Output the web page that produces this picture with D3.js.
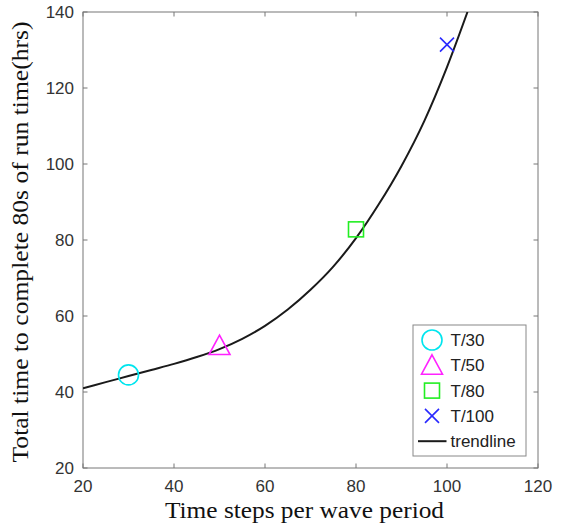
<!DOCTYPE html>
<html>
<head>
<meta charset="utf-8">
<script src="https://cdn.jsdelivr.net/npm/d3@7"></script>
<style>
    body { margin: 0; background: #fff; }
    .tick-label { font-family: "Liberation Sans", Arial, sans-serif; font-size: 17px; fill: #333; }
    .axis-label { font-family: "Liberation Serif", "Times New Roman", serif; font-size: 24px; fill: #111; }
    .legend-text { font-family: "Liberation Sans", Arial, sans-serif; font-size: 17px; fill: #222; }
</style>
</head>
<body>
<div id="chart"></div>
<script>
//== DATA ================================================//
var xTicks = [20, 40, 60, 80, 100, 120];
var yTicks = [20, 40, 60, 80, 100, 120, 140];

// measured runs
var runLabels = ["T/30", "T/50", "T/80", "T/100"];
var runX = [30, 50, 80, 100];
var runY = [44.5, 52.2, 82.8, 131.4];
var runColors = ["#00e5ee", "#ff22ff", "#22ee22", "#2a2aff"];
var runShapes = ["circle", "triangle", "square", "cross"];

// trendline
var trendX = [20, 25, 30, 35, 40, 45, 50, 55, 60, 65, 70, 75, 80, 85, 90, 95, 100, 104.5];
var trendY = [41.0, 42.6, 44.2, 45.8, 47.4, 49.2, 51.3, 54.0, 57.4, 61.7, 66.9, 73.0, 80.5, 89.4, 99.5, 111.3, 125.5, 140];

//== PLOT ================================================//
var W = 565, H = 526;
var margin = { top: 12, right: 27, bottom: 58, left: 83 },
    width = W - margin.left - margin.right,
    height = H - margin.top - margin.bottom;

var svg = d3.select("#chart")
    .append("svg")
    .attr("width", W)
    .attr("height", H)
    .append("g")
    .attr("transform", "translate(" + margin.left + "," + margin.top + ")");

var x = d3.scaleLinear().domain([20, 120]).range([0, width]);
var y = d3.scaleLinear().domain([20, 140]).range([height, 0]);

var axisColor = "#777";
var tickLen = 4.5;

// box
svg.append("rect")
    .attr("x", 0).attr("y", 0)
    .attr("width", width).attr("height", height)
    .attr("fill", "none")
    .attr("stroke", axisColor)
    .attr("stroke-width", 1);

// inward ticks on all four sides
xTicks.forEach(function (t) {
    svg.append("line").attr("x1", x(t)).attr("x2", x(t))
        .attr("y1", height).attr("y2", height - tickLen)
        .attr("stroke", axisColor);
    svg.append("line").attr("x1", x(t)).attr("x2", x(t))
        .attr("y1", 0).attr("y2", tickLen)
        .attr("stroke", axisColor);
    svg.append("text")
        .attr("class", "tick-label")
        .attr("text-anchor", "middle")
        .attr("x", x(t))
        .attr("y", height + 24)
        .text(t);
});
yTicks.forEach(function (t) {
    svg.append("line").attr("x1", 0).attr("x2", tickLen)
        .attr("y1", y(t)).attr("y2", y(t))
        .attr("stroke", axisColor);
    svg.append("line").attr("x1", width).attr("x2", width - tickLen)
        .attr("y1", y(t)).attr("y2", y(t))
        .attr("stroke", axisColor);
    svg.append("text")
        .attr("class", "tick-label")
        .attr("text-anchor", "end")
        .attr("x", -9)
        .attr("y", y(t))
        .attr("dy", "0.36em")
        .text(t);
});

// axis labels
svg.append("text")
    .attr("class", "axis-label")
    .attr("text-anchor", "middle")
    .attr("x", width / 2 - 6)
    .attr("y", height + 50)
    .attr("textLength", 279)
    .attr("lengthAdjust", "spacingAndGlyphs")
    .text("Time steps per wave period");

svg.append("text")
    .attr("class", "axis-label")
    .attr("text-anchor", "middle")
    .attr("transform", "translate(-55," + (height / 2 + 2) + ")rotate(-90)")
    .attr("textLength", 441)
    .attr("lengthAdjust", "spacingAndGlyphs")
    .text("Total time to complete 80s of run time(hrs)");

// clip
svg.append("defs").append("clipPath")
    .attr("id", "clip")
    .append("rect")
    .attr("width", width)
    .attr("height", height);

// trendline
var trend = trendX.map(function (v, i) { return { x: v, y: trendY[i] }; });
svg.append("path")
    .datum(trend)
    .attr("clip-path", "url(#clip)")
    .attr("fill", "none")
    .attr("stroke", "#1a1a1a")
    .attr("stroke-width", 2)
    .attr("d", d3.line()
        .curve(d3.curveMonotoneX)
        .x(function (d) { return x(d.x); })
        .y(function (d) { return y(d.y); }));

// marker drawer
var drawMarker = function (g, shape, cx, cy, color) {
    if (shape === "circle") {
        g.append("circle").attr("cx", cx).attr("cy", cy).attr("r", 10)
            .attr("fill", "none").attr("stroke", color).attr("stroke-width", 1.6);
    } else if (shape === "triangle") {
        var s = 10.5;
        g.append("path")
            .attr("d", "M" + cx + "," + (cy - s) + "L" + (cx + s) + "," + (cy + s * 0.85) +
                "L" + (cx - s) + "," + (cy + s * 0.85) + "Z")
            .attr("fill", "none").attr("stroke", color).attr("stroke-width", 1.6);
    } else if (shape === "square") {
        g.append("rect").attr("x", cx - 7.5).attr("y", cy - 7.5)
            .attr("width", 15).attr("height", 15)
            .attr("fill", "none").attr("stroke", color).attr("stroke-width", 1.6);
    } else {
        var c = 7;
        g.append("path")
            .attr("d", "M" + (cx - c) + "," + (cy - c) + "L" + (cx + c) + "," + (cy + c) +
                "M" + (cx - c) + "," + (cy + c) + "L" + (cx + c) + "," + (cy - c))
            .attr("fill", "none").attr("stroke", color).attr("stroke-width", 1.6);
    }
};

runX.forEach(function (v, i) {
    drawMarker(svg, runShapes[i], x(v), y(runY[i]), runColors[i]);
});

// legend
var lg = svg.append("g")
    .attr("transform", "translate(" + (413 - margin.left) + "," + (325 - margin.top) + ")");
lg.append("rect")
    .attr("width", 113).attr("height", 131)
    .attr("fill", "#fff")
    .attr("stroke", "#888")
    .attr("stroke-width", 1);

var rowH = 25.3;
runLabels.forEach(function (lab, i) {
    var yy = 15 + i * rowH;
    drawMarker(lg, runShapes[i], 19, yy, runColors[i]);
    lg.append("text").attr("class", "legend-text")
        .attr("x", 37.5).attr("y", yy).attr("dy", "0.36em")
        .text(lab);
});
var yy = 15 + 4 * rowH;
lg.append("line")
    .attr("x1", 5).attr("x2", 33.5)
    .attr("y1", yy).attr("y2", yy)
    .attr("stroke", "#1a1a1a").attr("stroke-width", 2);
lg.append("text").attr("class", "legend-text")
    .attr("x", 37.5).attr("y", yy).attr("dy", "0.36em")
    .text("trendline");
</script>
</body>
</html>
